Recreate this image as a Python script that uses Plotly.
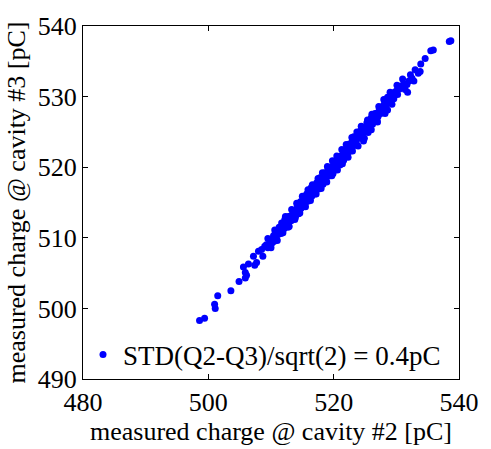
import plotly.graph_objects as go

# charge measured at cavity #2 (x) and cavity #3 (y), pC
q2_tails = [498.6, 499.4, 501.0, 501.1, 501.5, 503.6, 504.9, 505.9, 506.1, 505.9,
            505.6, 506.4, 507.4, 507.7, 507.2, 508.0, 508.7, 508.5, 509.0, 509.5,
            509.25, 510.0, 509.8, 510.5,
            538.45, 538.7, 535.9, 535.5, 534.6, 533.9, 533.0, 533.5, 533.8, 532.25,
            532.5, 532.8, 531.0, 531.7, 531.8, 530.7, 530.45, 529.7, 529.4, 528.6,
            528.1, 528.4, 527.3, 527.9, 528.6, 526.6, 527.1, 526.0, 526.8, 525.3,
            525.8, 525.0, 524.5, 524.0, 523.5, 525.5, 524.76]
q3_tails = [498.3, 498.6, 500.6, 500.0, 501.8, 502.5, 503.8, 504.3, 504.7, 505.1,
            505.85, 506.3, 506.1, 506.5, 507.4, 508.1, 507.4, 508.35, 508.8, 508.6,
            509.0, 509.25, 509.7, 509.5,
            537.8, 537.9, 536.6, 536.5, 535.4, 534.6, 533.8, 533.3, 533.55, 533.1,
            532.6, 532.2, 532.5, 531.7, 530.6, 531.5, 531.05, 530.6, 530.15, 529.9,
            529.5, 529.0, 528.3, 528.55, 528.1, 527.6, 527.2, 527.0, 526.5, 526.3,
            525.8, 525.4, 525.15, 524.5, 524.2, 524.9, 523.7]

q2_core = [510.2, 510.4, 510.5, 510.7, 510.9, 511.0, 511.2, 511.3, 511.5, 511.6,
           511.8, 511.9, 512.1, 512.2, 512.4, 512.5, 512.7, 512.8, 512.9, 513.1,
           513.2, 513.4, 513.5, 513.6, 513.8, 513.9, 514.0, 514.2, 514.3, 514.4,
           514.6, 514.7, 514.8, 515.0, 515.1, 515.2, 515.4, 515.5, 515.6, 515.7,
           515.9, 516.0, 516.1, 516.3, 516.4, 516.5, 516.6, 516.8, 516.9, 517.0,
           517.1, 517.3, 517.4, 517.5, 517.6, 517.8, 517.9, 518.0, 518.1, 518.3,
           518.4, 518.5, 518.6, 518.7, 518.9, 519.0, 519.1, 519.2, 519.4, 519.5,
           519.6, 519.7, 519.9, 520.0, 520.1, 520.2, 520.4, 520.5, 520.6, 520.7,
           520.9, 521.0, 521.1, 521.2, 521.4, 521.5, 521.6, 521.8, 521.9, 522.0,
           522.1, 522.3, 522.4, 522.5, 522.7, 522.8, 522.9, 523.1, 523.2, 523.3,
           523.5, 523.6, 523.8, 524.0, 524.2, 524.4,
           510.8, 511.4, 512.0, 512.6, 513.0, 513.7, 514.1, 514.5, 514.9, 515.3,
           515.8, 516.2, 516.7, 517.2, 517.7, 518.2, 518.8, 519.3, 519.8, 520.3,
           520.8, 521.3, 521.7, 522.2, 522.6, 523.0, 523.4, 523.9, 524.3, 524.6,
           524.8, 525.1, 525.2, 525.6, 525.9, 526.2, 526.3, 526.5, 526.9, 527.0,
           527.5, 527.7, 528.0, 528.3, 528.9, 529.1, 529.6, 530.0, 530.2, 531.2,
           531.4, 532.0]
q3_core = [509.3, 510.3, 509.9, 510.8, 509.8, 510.7, 510.5, 511.5, 511.1, 510.6,
           511.9, 511.5, 511.3, 512.6, 511.8, 512.4, 511.5, 513.0, 512.4, 513.1,
           512.4, 513.9, 513.1, 512.9, 513.9, 512.9, 513.9, 514.6, 513.8, 513.4,
           514.6, 515.1, 514.2, 514.9, 515.7, 514.9, 514.7, 515.7, 515.1, 516.2,
           515.9, 515.2, 516.4, 516.1, 517.1, 515.9, 516.7, 516.4, 517.3, 516.2,
           517.0, 517.8, 517.2, 517.8, 516.9, 518.5, 517.4, 518.1, 518.5, 517.6,
           518.6, 518.4, 519.2, 518.2, 519.2, 518.7, 519.9, 519.2, 518.8, 520.0,
           519.4, 520.1, 519.1, 520.1, 520.8, 519.8, 520.6, 520.0, 521.2, 520.6,
           521.2, 520.3, 521.6, 521.2, 521.1, 522.3, 521.0, 522.0, 522.3, 521.6,
           522.8, 522.1, 522.5, 523.3, 522.3, 523.2, 523.5, 523.0, 524.3, 523.5,
           524.1, 523.6, 524.7, 524.4, 525.1, 524.9,
           510.3, 510.9, 511.8, 512.2, 512.6, 513.4, 514.0, 514.1, 514.7, 515.3,
           515.5, 516.0, 516.5, 517.3, 517.6, 518.0, 518.7, 519.4, 519.7, 520.3,
           520.8, 521.5, 521.7, 522.3, 522.8, 523.4, 523.7, 524.1, 524.4, 524.8,
           525.3, 525.1, 525.8, 525.5, 526.4, 526.1, 526.7, 527.3, 526.8, 527.7,
           527.6, 528.0, 528.8, 528.5, 529.3, 529.8, 529.7, 530.8, 530.3, 531.8,
           531.0, 532.2]

q2_edge = [509.5, 510.6, 511.7, 512.3, 513.3, 514.1, 515.0, 515.9, 516.6, 517.5,
           518.2, 519.0, 519.8, 520.5, 521.3, 522.0, 522.9, 523.7, 524.4, 525.4,
           526.1, 527.2, 528.0, 529.0, 530.1,
           510.0, 511.0, 511.9, 512.9, 513.8, 514.6, 515.5, 516.3, 517.2, 518.0,
           518.9, 519.7, 520.6, 521.4, 522.3, 523.0, 523.9, 524.9, 526.0, 527.0,
           528.2, 529.3]
q3_edge = [509.9, 511.1, 512.1, 513.0, 514.0, 514.9, 515.9, 516.8, 517.5, 518.4,
           519.2, 520.1, 520.9, 521.6, 522.5, 523.2, 524.2, 525.0, 525.8, 526.7,
           527.5, 528.6, 529.6, 530.6, 531.6,
           508.6, 509.6, 510.7, 511.6, 512.6, 513.5, 514.4, 515.3, 516.2, 517.0,
           517.9, 518.8, 519.6, 520.5, 521.4, 522.3, 523.0, 524.1, 525.3, 526.4,
           527.6, 528.9]

q2 = q2_tails + q2_core + q2_edge
q3 = q3_tails + q3_core + q3_edge

x_ticks = [480, 500, 520, 540]
y_ticks = [490, 500, 510, 520, 530, 540]
legend_label = "STD(Q2-Q3)/sqrt(2) = 0.4pC"

FONT = "Liberation Serif, Times New Roman, serif"

fig = go.Figure()
fig.add_trace(go.Scatter(
    x=q2, y=q3, mode="markers", name=legend_label,
    marker=dict(color="rgb(0,0,255)", size=7, line=dict(width=0)),
))

axis_common = dict(
    showgrid=False, zeroline=False, showline=True, linecolor="black", linewidth=1,
    mirror="ticks", ticks="inside", ticklen=5, tickwidth=1, tickcolor="black",
    tickfont=dict(family=FONT, size=26, color="black"),
)
fig.update_xaxes(range=[480, 540], tickvals=x_ticks,
                 title=dict(text="measured charge @ cavity #2 [pC]",
                            font=dict(family=FONT, size=26, color="black"), standoff=2),
                 **axis_common)
fig.update_yaxes(range=[490, 540], tickvals=y_ticks,
                 title=dict(text="measured charge @ cavity #3 [pC]",
                            font=dict(family=FONT, size=26, color="black"), standoff=4),
                 **axis_common)

fig.update_layout(
    width=491, height=449,
    margin=dict(l=83, r=21, t=21, b=61, pad=0),
    paper_bgcolor="white", plot_bgcolor="white",
    font=dict(family=FONT, size=26, color="black"),
    showlegend=True,
    legend=dict(x=0.0, y=0.068, xanchor="left", yanchor="middle",
                bgcolor="rgba(0,0,0,0)", borderwidth=0,
                font=dict(family=FONT, size=27, color="black")),
)

fig.write_html("out.html")
